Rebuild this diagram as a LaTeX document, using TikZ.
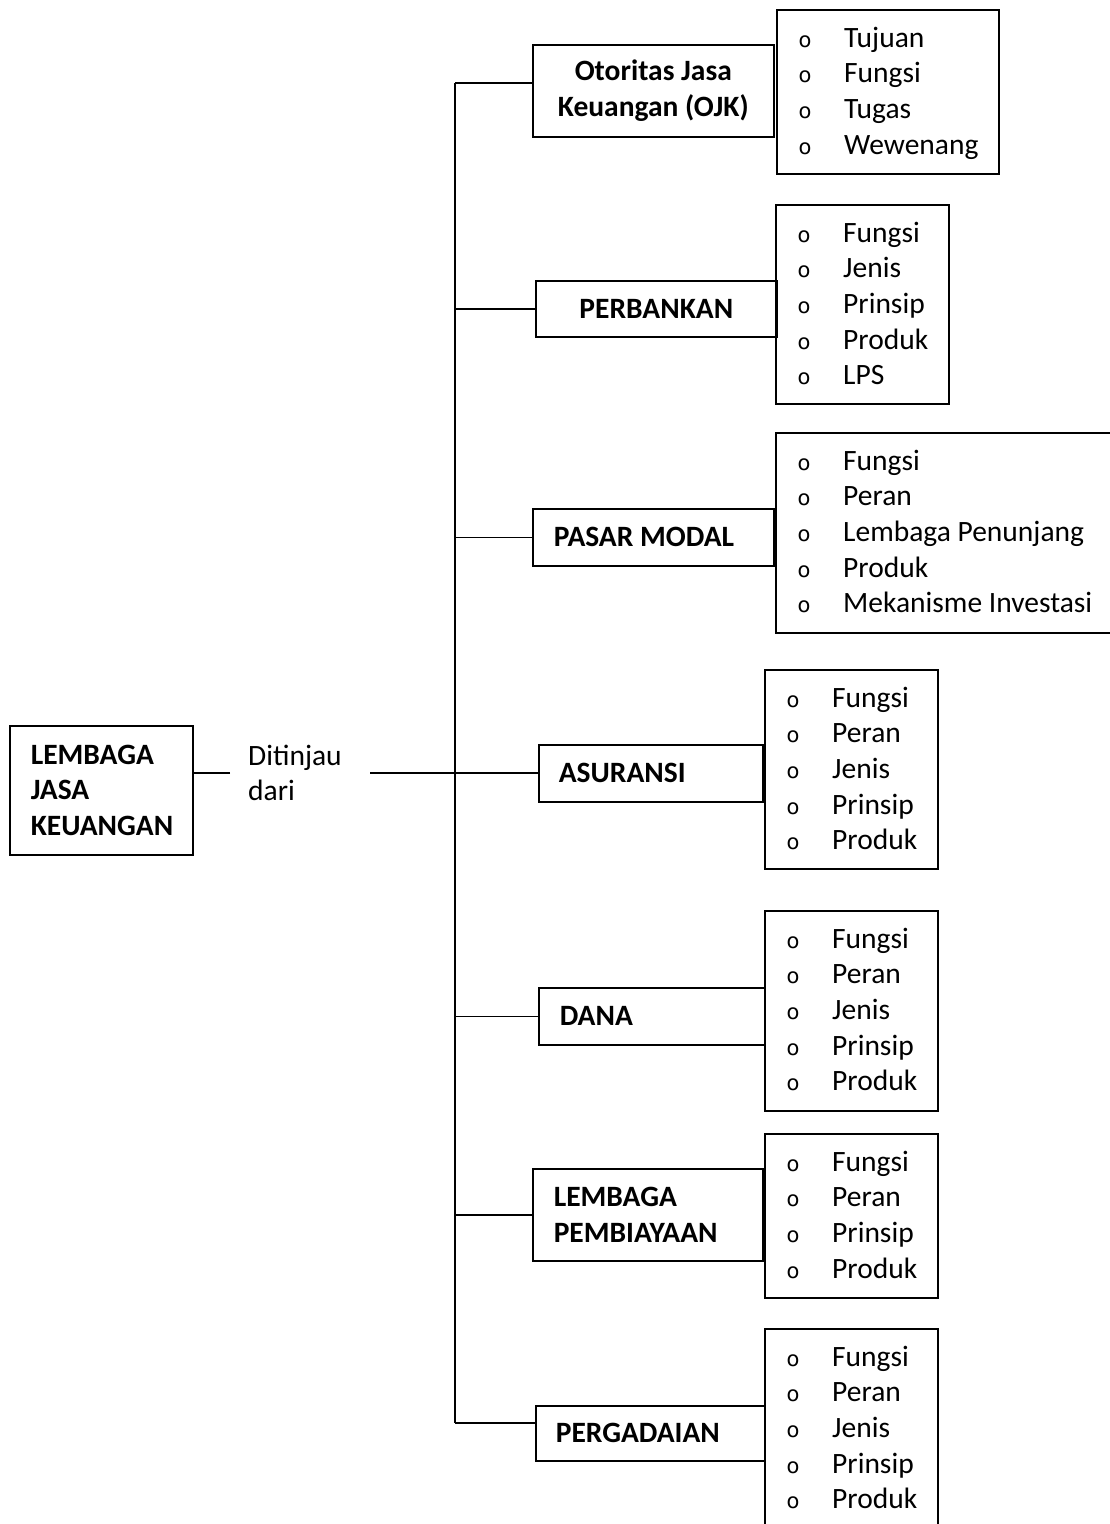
\documentclass[tikz,border=0pt]{standalone}
\usepackage{fontspec}
\setmainfont{Carlito}
\newfontfamily\bulatfont{DejaVu Sans}
\usepackage{tikz}
\usetikzlibrary{positioning, calc}

\newcommand{\ukuran}{\fontsize{29.5}{35.7}\selectfont}

\tikzset{
  kotak/.style={draw, line width=1.6pt, inner sep=0pt, anchor=north west},
  judul/.style={kotak, font=\ukuran\bfseries, align=flush left},
  tengah/.style={judul, align=flush center},
  daftar/.style={kotak},
  butir/.style={anchor=base west, inner sep=0pt, font=\ukuran},
  bulet/.style={anchor=base, inner sep=0pt, font=\fontsize{21}{26}\selectfont\bulatfont},
  garis/.style={line width=1.6pt},
}

% isi kotak daftar: bulatan + teks
\newcommand{\isidaftar}[2]{%
  \foreach \t [count=\k] in {#2} {
    \node[bulet] (#1-o\k) at ($(#1.north west)+(29,38+35.7*\k-35.7)$) {o};
    \node[butir] (#1-\k) at ($(#1.north west)+(68,38+35.7*\k-35.7)$) {\t};
  }}

\begin{document}
\begin{tikzpicture}[x=1pt, y=-1pt]
  \useasboundingbox (0,0) rectangle (1109,1524);

  % Kotak utama
  \node[judul, minimum width=183pt, minimum height=129pt, inner xsep=21pt, text width=141pt]
    (lem) at (9,725) {LEMBAGA\\JASA\\KEUANGAN};
  \node[anchor=west, inner xsep=18pt, text width=104pt, align=flush left, font=\ukuran]
    (dt) at (230,773) {Ditinjau\\dari};

  % Kategori
  \node[tengah, minimum width=241pt, minimum height=92pt, text width=241pt] (ojk) at (532,44) {Otoritas Jasa\\Keuangan (OJK)};
  \node[tengah, minimum width=241pt, minimum height=56pt, text width=241pt] (perb) at (535,280) {PERBANKAN};
  \node[judul, minimum width=241pt, minimum height=57pt, inner xsep=21pt, text width=199pt] (psr) at (532,508) {PASAR MODAL};
  \node[judul, minimum width=224pt, minimum height=57pt, inner xsep=20pt, text width=184pt] (asr) at (538,744) {ASURANSI};
  \node[judul, minimum width=226pt, minimum height=57pt, inner xsep=21pt, text width=184pt] (dana) at (538,987) {DANA};
  \node[judul, minimum width=230pt, minimum height=92pt, inner xsep=21pt, text width=188pt] (lp) at (532,1168) {LEMBAGA\\PEMBIAYAAN};
  \node[judul, minimum width=229pt, minimum height=55pt, inner xsep=20pt, text width=189pt] (perg) at (535,1405) {PERGADAIAN};

  % Kotak daftar
  \node[daftar, minimum width=222pt, minimum height=164pt] (ojkL) at (776,9) {};
  \node[daftar, minimum width=173pt, minimum height=199pt] (perbL) at (775,204) {};
  \node[daftar, minimum width=400pt, minimum height=200pt] (psrL) at (775,432) {};
  \node[daftar, minimum width=173pt, minimum height=199pt] (asrL) at (764,669) {};
  \node[daftar, minimum width=173pt, minimum height=200pt] (danaL) at (764,910) {};
  \node[daftar, minimum width=173pt, minimum height=164pt] (lpL) at (764,1133) {};
  \node[daftar, minimum width=173pt, minimum height=200pt] (pergL) at (764,1328) {};

  \isidaftar{ojkL}{Tujuan,Fungsi,Tugas,Wewenang}
  \isidaftar{perbL}{Fungsi,Jenis,Prinsip,Produk,LPS}
  \isidaftar{psrL}{Fungsi,Peran,Lembaga Penunjang,Produk,Mekanisme Investasi}
  \isidaftar{asrL}{Fungsi,Peran,Jenis,Prinsip,Produk}
  \isidaftar{danaL}{Fungsi,Peran,Jenis,Prinsip,Produk}
  \isidaftar{lpL}{Fungsi,Peran,Prinsip,Produk}
  \isidaftar{pergL}{Fungsi,Peran,Jenis,Prinsip,Produk}

  % Garis penghubung
  \coordinate (atas) at (455,83);
  \coordinate (bawah) at (455,1423);
  \draw[garis] (atas) -- (bawah);
  \draw[garis] (dt.west) -- (dt.west -| lem.east);
  \draw[garis] (dt.east) -- (dt.east -| asr.west);
  \draw[garis] (atas) -- (atas -| ojk.west);
  \draw[garis] (perb.west) -- (perb.west -| atas);
  \draw[garis] (psr.west) -- (psr.west -| atas);
  \draw[garis] (dana.west) -- (dana.west -| atas);
  \draw[garis] (lp.west) -- (lp.west -| atas);
  \draw[garis] (bawah) -- (bawah -| perg.west);
\end{tikzpicture}
\end{document}
